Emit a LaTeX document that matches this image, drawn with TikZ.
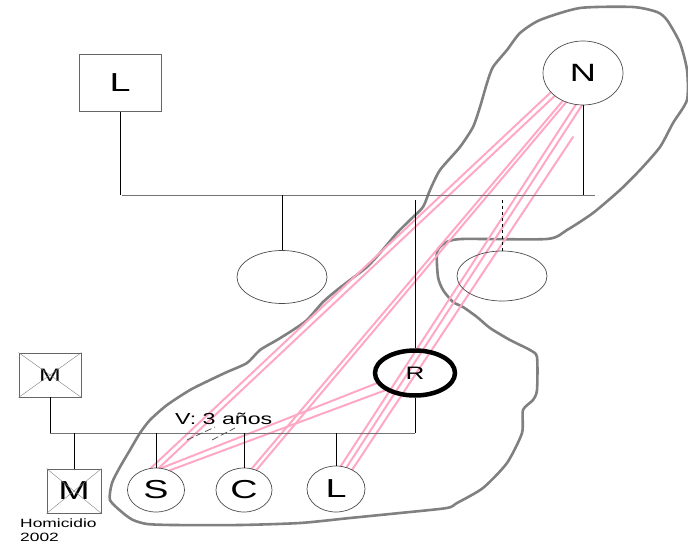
\documentclass[tikz,border=0pt]{standalone}
\usepackage{fontspec}
\setmainfont{Liberation Sans}
\usetikzlibrary{shapes.geometric}
\usetikzlibrary{backgrounds}
\definecolor{relpink}{RGB}{255,168,196}
\definecolor{blobgray}{RGB}{128,128,128}
\newcommand{\wide}[1]{\scalebox{1.45}[1]{#1}}
\newcommand{\fs}[1]{\fontsize{#1}{#1}\selectfont}

\begin{document}
\begin{tikzpicture}[x=1pt, y=-1pt,
    person/.style={ellipse, draw=black!70, line width=0.7pt, inner sep=0pt},
    man/.style={rectangle, draw=black!60, line width=0.8pt, inner sep=0pt},
    rel/.style={relpink, line width=2pt, line cap=round},
    kin/.style={black, line width=0.7pt},
    bar/.style={black!55, line width=0.9pt}]
    \useasboundingbox (0,0) rectangle (688,548);

    % persons
    \node[man, minimum width=82, minimum height=57] (topL) at (120,83) {\fs{26}\wide{L}};
    \node[person, minimum width=80, minimum height=64] (N) at (583,73) {\fs{25}\wide{N}};
    \node[person, minimum width=90, minimum height=53] (ell1) at (282,277) {};
    \node[person, minimum width=90, minimum height=50] (ell2) at (502,276) {};
    \node[ellipse, draw=black, line width=4.5pt, inner sep=0pt, minimum width=80, minimum height=45] (R) at (415,373) {\fs{18}\wide{R}};
    \node[man, minimum width=62, minimum height=44] (M1) at (50,375) {\fs{18}\wide{M}};
    \node[man, minimum width=54, minimum height=44] (M2) at (74,491) {\fs{26}\wide{M}};
    \node[person, minimum width=57, minimum height=44] (S) at (156,490) {\fs{26}\wide{S}};
    \node[person, minimum width=56, minimum height=44] (C) at (244,490) {\fs{26}\wide{C}};
    \node[person, minimum width=58, minimum height=46] (Lc) at (336,489) {\fs{26}\wide{L}};
    \node[anchor=base west, inner sep=0pt] (vlabel) at (175,424) {\fs{16}\wide{V: 3 años}};
    \node[anchor=north west, align=left, inner sep=0pt, font=\fontsize{12}{14}\selectfont] (hom) at (20,519) {\wide{Homicidio}\\\wide{2002}};

    % crosses
    \draw[black!50] (M1.north west) -- (M1.south east) (M1.north east) -- (M1.south west);
    \draw[black!50] (M2.north west) -- (M2.south east) (M2.north east) -- (M2.south west);

    % family lines
    \coordinate (tl) at (122,195);
    \coordinate (tr) at (595,195);
    \coordinate (bl) at (50,433);
    \coordinate (br) at (415,433);
    \draw[bar] (tl) -- (tr);
    \draw[bar] (bl) -- (br);
    \draw[kin] (topL.south) -- (topL.south |- tl);
    \draw[kin] (ell1.north) -- (ell1.north |- tl);
    \draw[kin, dashed] (ell2.north) -- ([yshift=-5pt]ell2.north |- tl);
    \draw[kin] (N.south) -- (N.south |- tr);
    \draw[kin] (R.north) -- ([yshift=-5pt]R.north |- tl);
    \draw[kin] (R.south) -- (br);
    \draw[kin] (M1.south) -- (M1.south |- bl);
    \draw[kin] (M2.north) -- (M2.north |- bl);
    \draw[kin] (S.north) -- (S.north |- bl);
    \draw[kin] (C.north) -- (C.north |- bl);
    \draw[kin] (Lc.north) -- (Lc.north |- bl);
    \draw[black!65, line width=0.8pt, dash pattern=on 7pt off 3pt] (187,440) -- (215,427) (212,440) -- (235,428);

    \begin{scope}[on background layer]
    % group outline
    \draw[blobgray, line width=2.6pt, line join=round] plot[smooth cycle, tension=0.4] coordinates {
        (110,500) (112,483) (120,467) (130,450) (140,433) (150,420) (167,405) (190,390)
        (210,380) (227,372) (247,363) (260,350) (277,340) (293,330) (307,320) (323,302)
        (337,290) (350,280) (367,267) (380,253) (397,233) (410,220) (423,207) (430,190)
        (440,170) (460,147) (473,127) (480,107) (487,83) (493,67) (507,50) (520,33)
        (540,20) (580,8) (633,7) (657,12) (667,20) (680,43) (687,70) (687,100)
        (673,123) (660,147) (640,170) (620,190) (593,213) (567,230) (547,239) (462,239)
        (445,243) (437,252) (438,277) (443,290) (453,302) (463,307) (477,317) (490,328)
        (510,340) (530,350) (537,357) (537,390) (533,400) (523,410) (522,433) (507,463)
        (483,488) (457,503) (447,508) (400,513) (350,518) (300,523) (240,525) (173,525)
        (147,524) (133,520) (123,513)};
    % relations
    \coordinate (nfree) at (573,137);
    \draw[rel] (N.211) -- (S.103);
    \draw[rel] (N.219) -- (S.82);
    \draw[rel] (N.234) -- (C.70);
    \draw[rel] (N.240) -- (C.58);
    \draw[rel] (N.257) -- (Lc.78);
    \draw[rel] (N.268) -- (Lc.64);
    \draw[rel] (nfree) -- (Lc.50);
    \draw[rel] (R.195) -- (S.76);
    \draw[rel] (R.210) -- (S.55);
    \end{scope}
\end{tikzpicture}
\end{document}
